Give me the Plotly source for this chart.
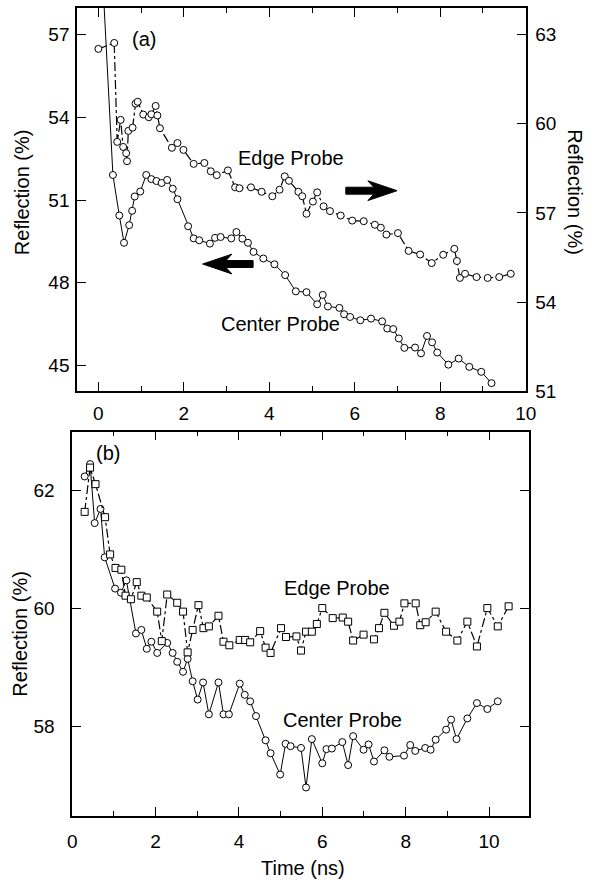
import plotly.graph_objects as go

# ---------------- Panel (a) data ----------------
a_center_x = [0.0, 0.34, 0.49, 0.60, 0.72, 0.79, 0.85, 0.98, 1.12, 1.24, 1.36, 1.48, 1.61, 1.74, 1.85,
              2.10, 2.23, 2.36, 2.61, 2.73, 2.86, 3.11, 3.23, 3.37, 3.50, 3.63, 3.86, 4.12, 4.37, 4.62,
              4.87, 5.12, 5.25, 5.37, 5.64, 5.75, 5.89, 6.13, 6.38, 6.64, 6.76, 6.90, 7.03, 7.16, 7.41,
              7.55, 7.69, 7.81, 7.93, 8.19, 8.43, 8.68, 8.96, 9.20]
a_center_y = [62.0, 51.91, 50.44, 49.45, 50.09, 50.61, 51.13, 51.31, 51.91, 51.76, 51.69, 51.62, 51.73, 51.41, 51.03,
              50.05, 49.61, 49.54, 49.42, 49.63, 49.66, 49.61, 49.84, 49.60, 49.45, 49.12, 48.88, 48.67, 48.28, 47.69,
              47.66, 47.22, 47.56, 47.14, 47.09, 46.86, 46.76, 46.64, 46.70, 46.60, 46.34, 46.32, 45.98, 45.64, 45.65,
              45.44, 46.07, 45.84, 45.47, 45.03, 45.25, 44.95, 44.77, 44.36]

a_edge_x = [0.00, 0.37, 0.44, 0.52, 0.58, 0.65, 0.67, 0.70, 0.80, 0.87, 0.92, 1.05, 1.18, 1.24, 1.34, 1.38, 1.44,
            1.72, 1.85, 1.99, 2.23, 2.48, 2.63, 2.77, 3.03, 3.20, 3.30, 3.57, 3.82, 4.07, 4.24, 4.36, 4.46,
            4.68, 4.77, 4.87, 5.02, 5.12, 5.27, 5.42, 5.67, 5.94, 6.21, 6.47, 6.61, 6.74, 7.01, 7.26, 7.53,
            7.80, 8.07, 8.33, 8.39, 8.46, 8.58, 8.85, 9.11, 9.38, 9.65]
a_edge_y = [62.52, 62.72, 59.39, 60.13, 59.22, 59.01, 58.74, 59.76, 59.87, 60.68, 60.74, 60.31, 60.22, 60.32, 60.60, 60.28, 59.85,
            59.19, 59.35, 59.12, 58.65, 58.68, 58.40, 58.27, 58.43, 57.86, 57.83, 57.86, 57.71, 57.56, 57.78, 58.23, 58.08,
            57.71, 57.56, 56.97, 57.38, 57.69, 57.22, 57.06, 56.91, 56.74, 56.72, 56.60, 56.50, 56.27, 56.32, 55.72, 55.60,
            55.31, 55.59, 55.79, 55.38, 54.81, 54.95, 54.84, 54.81, 54.84, 54.95]

# ---------------- Panel (b) data ----------------
b_center_x = [0.30, 0.43, 0.54, 0.68, 0.78, 1.03, 1.17, 1.30, 1.53, 1.66, 1.79, 1.90, 2.04, 2.28, 2.41, 2.52,
              2.66, 2.77, 2.89, 3.01, 3.14, 3.28, 3.51, 3.63, 3.76, 4.02, 4.14, 4.27, 4.41, 4.64, 4.76, 4.99,
              5.12, 5.24, 5.49, 5.61, 5.75, 6.00, 6.10, 6.23, 6.48, 6.62, 6.74, 6.99, 7.11, 7.24, 7.49, 7.61,
              7.96, 8.11, 8.23, 8.47, 8.60, 8.72, 8.97, 9.09, 9.22, 9.48, 9.71, 9.96, 10.21]
b_center_y = [62.24, 62.45, 61.45, 61.69, 60.87, 60.34, 60.27, 60.48, 59.58, 59.64, 59.32, 59.44, 59.25, 59.42, 59.25, 59.10,
              58.93, 59.15, 58.77, 58.46, 58.75, 58.21, 58.75, 58.21, 58.21, 58.73, 58.54, 58.43, 58.18, 57.77, 57.55, 57.19,
              57.71, 57.67, 57.64, 56.97, 57.79, 57.38, 57.62, 57.63, 57.74, 57.35, 57.84, 57.61, 57.70, 57.41, 57.60, 57.49,
              57.51, 57.69, 57.59, 57.64, 57.61, 57.78, 57.95, 58.12, 57.79, 58.14, 58.40, 58.30, 58.43]

b_edge_x = [0.30, 0.43, 0.56, 0.79, 0.91, 1.04, 1.18, 1.28, 1.41, 1.55, 1.66, 1.79, 2.04, 2.15, 2.28, 2.52, 2.66,
            2.77, 2.89, 3.03, 3.15, 3.28, 3.51, 3.63, 3.77, 4.02, 4.15, 4.27, 4.51, 4.64, 4.76, 5.01, 5.13, 5.38,
            5.49, 5.61, 5.75, 5.87, 6.00, 6.25, 6.49, 6.62, 6.74, 6.99, 7.24, 7.36, 7.49, 7.72, 7.85, 7.97, 8.24,
            8.35, 8.48, 8.72, 8.97, 9.24, 9.48, 9.71, 9.96, 10.21, 10.47]
b_edge_y = [61.64, 62.39, 62.11, 61.55, 60.92, 60.69, 60.66, 60.22, 60.16, 60.45, 60.22, 60.19, 59.95, 59.45, 60.24, 60.10, 59.95,
            59.26, 59.64, 60.06, 59.67, 59.70, 59.88, 59.44, 59.38, 59.47, 59.47, 59.43, 59.62, 59.34, 59.25, 59.67, 59.52, 59.53,
            59.29, 59.61, 59.61, 59.74, 60.01, 59.84, 59.85, 59.78, 59.46, 59.56, 59.48, 59.67, 59.93, 59.71, 59.78, 60.09, 60.09,
            59.72, 59.77, 59.95, 59.61, 59.46, 59.78, 59.36, 60.01, 59.70, 60.04]

xticks = [0, 2, 4, 6, 8, 10]
a_left_ticks = [45, 48, 51, 54, 57]
a_right_ticks = [51, 54, 57, 60, 63]
b_left_ticks = [58, 60, 62]

# arrow annotations in panel (a): (tail x, tip x, y on left axis)
arrow_right = (5.79, 6.99, 51.34)
arrow_left = (3.62, 2.44, 48.68)

FONT = "Arial, Liberation Sans, sans-serif"
W, H = 599, 893

# panel geometry (pixels)
A_X0, A_X1, A_Y0, A_Y1 = 74, 535, 8, 396
B_X0, B_X1, B_Y0, B_Y1 = 69, 538, 437, 826
A_XR = [-0.5, 10.0]
A_YR = [44.07, 57.97]
A_Y2R = [51.0, 63.9]
B_XR = [0, 10.95]
B_YR = [56.49, 63.0]

fig = go.Figure()

def mk(symbol):
    return dict(symbol=symbol, size=7, color="white", line=dict(color="black", width=1))

fig.add_trace(go.Scatter(x=a_center_x, y=a_center_y, mode="lines+markers", xaxis="x", yaxis="y",
                         line=dict(color="black", width=1), marker=mk("circle"), showlegend=False))
fig.add_trace(go.Scatter(x=a_edge_x, y=a_edge_y, mode="lines+markers", xaxis="x", yaxis="y2",
                         line=dict(color="black", width=1.2, dash="dashdot"), marker=mk("circle"), showlegend=False))
fig.add_trace(go.Scatter(x=b_center_x, y=b_center_y, mode="lines+markers", xaxis="x2", yaxis="y3",
                         line=dict(color="black", width=1), marker=mk("circle"), showlegend=False))
fig.add_trace(go.Scatter(x=b_edge_x, y=b_edge_y, mode="lines+markers", xaxis="x2", yaxis="y3",
                         line=dict(color="black", width=1.2, dash="dashdot"), marker=mk("square"), showlegend=False))

axcommon = dict(showline=True, linecolor="black", linewidth=1.5, ticks="inside", ticklen=9,
                tickwidth=1.2, tickcolor="black", showgrid=False, zeroline=False,
                tickfont=dict(family=FONT, size=19, color="black"))

fig.update_layout(
    width=W, height=H, margin=dict(l=0, r=0, t=0, b=0),
    paper_bgcolor="white", plot_bgcolor="white",
    xaxis=dict(domain=[A_X0 / W, A_X1 / W], anchor="y", range=A_XR, tickvals=xticks, mirror="ticks",
               minor=dict(tickvals=[1, 3, 5, 7, 9], ticks="inside", ticklen=5, tickcolor="black"),
               ticklabelstandoff=4, **axcommon),
    yaxis=dict(domain=[1 - A_Y1 / H, 1 - A_Y0 / H], anchor="x", range=A_YR, tickvals=a_left_ticks,
               ticklabelstandoff=2, **axcommon),
    yaxis2=dict(overlaying="y", side="right", anchor="x", range=A_Y2R, tickvals=a_right_ticks,
                ticklabelstandoff=4, **axcommon),
    xaxis2=dict(domain=[B_X0 / W, B_X1 / W], anchor="y3", range=B_XR, tickvals=xticks, mirror="ticks",
                minor=dict(tickvals=[1, 3, 5, 7, 9], ticks="inside", ticklen=5, tickcolor="black"),
                ticklabelstandoff=8, **axcommon),
    yaxis3=dict(domain=[1 - B_Y1 / H, 1 - B_Y0 / H], anchor="x2", range=B_YR, tickvals=b_left_ticks,
                mirror="ticks", ticklabelstandoff=12, **axcommon),
)

def txt(s, px, py, angle=0, size=20):
    fig.add_annotation(text=s, xref="paper", yref="paper", x=px / W, y=1 - py / H, showarrow=False,
                       textangle=angle, font=dict(family=FONT, size=size, color="black"),
                       xanchor="center", yanchor="middle")

txt("(a)", 143, 39)
txt("Edge Probe", 294, 160)
txt("Center Probe", 283, 328)
txt("(b)", 106, 459)
txt("Edge Probe", 341, 595)
txt("Center Probe", 347, 729)
txt("Reflection (%)", 17, 195, angle=-90)
txt("Reflection (%)", 586, 195, angle=90)
txt("Reflection (%)", 15, 642, angle=-90)
txt("Time (ns)", 306, 879)

# thick block arrows drawn as filled paths in panel (a) data coordinates
ux = (A_X1 - A_X0) / (A_XR[1] - A_XR[0])   # px per x unit
uy = (A_Y1 - A_Y0) / (A_YR[1] - A_YR[0])   # px per y unit
HEAD_LEN, HEAD_HALF, SHAFT_HALF = 30, 10, 3.5

def block_arrow(tail_x, tip_x, y):
    s = 1 if tip_x > tail_x else -1
    hl = HEAD_LEN / ux
    hh = HEAD_HALF / uy
    sh = SHAFT_HALF / uy
    back = tip_x - s * hl
    neck = tip_x - s * hl * 0.8
    pts = [(tip_x, y), (back, y + hh), (neck, y + sh), (tail_x, y + sh),
           (tail_x, y - sh), (neck, y - sh), (back, y - hh)]
    path = "M " + " L ".join(f"{px:.4f},{py:.4f}" for px, py in pts) + " Z"
    fig.add_shape(type="path", path=path, xref="x", yref="y", fillcolor="black",
                  line=dict(color="black", width=1))

block_arrow(*arrow_right)
block_arrow(*arrow_left)

fig.write_html("out.html")
